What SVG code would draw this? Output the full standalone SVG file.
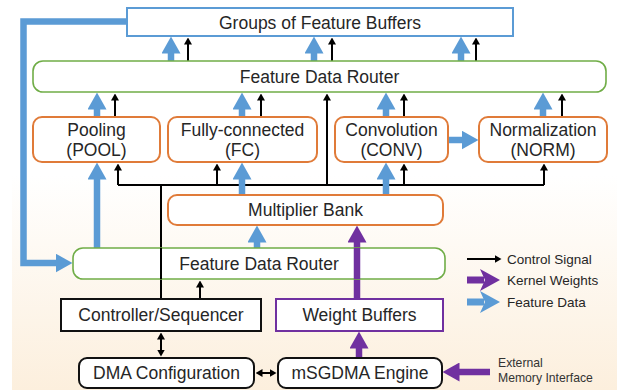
<svg xmlns="http://www.w3.org/2000/svg" width="617" height="390" viewBox="0 0 617 390">
<defs>
<linearGradient id="bg" x1="0" y1="0" x2="0" y2="1">
<stop offset="0" stop-color="#ffffff"/>
<stop offset="0.45" stop-color="#ffffff"/>
<stop offset="1" stop-color="#fcefdd"/>
</linearGradient>
<marker id="bh" markerUnits="userSpaceOnUse" markerWidth="17" markerHeight="19" viewBox="0 0 17 19" refX="0.5" refY="9.5" orient="auto"><path d="M0,0 L17,9.5 L0,19 z" fill="#5b9bd5"/></marker>
<marker id="ph" markerUnits="userSpaceOnUse" markerWidth="17" markerHeight="19" viewBox="0 0 17 19" refX="0.5" refY="9.5" orient="auto"><path d="M0,0 L17,9.5 L0,19 z" fill="#7030a0"/></marker>
<marker id="lbh" markerUnits="userSpaceOnUse" markerWidth="20" markerHeight="22" viewBox="0 0 20 22" refX="4" refY="11" orient="auto"><path d="M0,0 L20,11 L0,22 L5,11 z" fill="#5b9bd5"/></marker>
<marker id="lph" markerUnits="userSpaceOnUse" markerWidth="20" markerHeight="22" viewBox="0 0 20 22" refX="4" refY="11" orient="auto"><path d="M0,0 L20,11 L0,22 L5,11 z" fill="#7030a0"/></marker>
<marker id="kh" markerUnits="userSpaceOnUse" markerWidth="7" markerHeight="8" viewBox="0 0 7 8" refX="0.5" refY="4" orient="auto-start-reverse"><path d="M0,0 L7,4 L0,8 z" fill="#000"/></marker>
</defs>
<style>
.t{font-family:"Liberation Sans",Arial,sans-serif;font-size:17.5px;fill:#262626;text-anchor:middle}
.s{font-family:"Liberation Sans",Arial,sans-serif;font-size:13.5px;fill:#262626}
.x{font-family:"Liberation Sans",Arial,sans-serif;font-size:12.2px;fill:#333}
.blue{fill:#fff;stroke:#5b9bd5;stroke-width:2}
.green{fill:#fff;stroke:#70ad47;stroke-width:1.6}
.orange{fill:#fff;stroke:#e07b39;stroke-width:2}
.black{fill:#fff;stroke:#111;stroke-width:2}
.purple{fill:#fff;stroke:#7030a0;stroke-width:2}
.fb{fill:none;stroke:#5b9bd5;stroke-width:6.5;marker-end:url(#bh)}
.kw{fill:none;stroke:#7030a0;stroke-width:6.5;marker-end:url(#ph)}
.cs{fill:none;stroke:#000;stroke-width:2;marker-end:url(#kh)}
.ln{fill:none;stroke:#000;stroke-width:2}
.dbl{fill:none;stroke:#000;stroke-width:2;marker-end:url(#kh);marker-start:url(#kh)}
</style>
<rect x="12" y="0" width="605" height="390" fill="url(#bg)"/>

<g id="connectors">
<path class="fb" d="M127,21.5 H23.5 V263 H56"/>
<line class="fb" x1="171" y1="61" x2="171" y2="53"/>
<line class="fb" x1="314" y1="61" x2="314" y2="53"/>
<line class="fb" x1="461" y1="61" x2="461" y2="53"/>
<line class="cs" x1="188" y1="61" x2="188" y2="44"/>
<line class="cs" x1="332" y1="61" x2="332" y2="44"/>
<line class="cs" x1="476" y1="61" x2="476" y2="44"/>
<line class="fb" x1="97" y1="117" x2="97" y2="109"/>
<line class="fb" x1="242" y1="117" x2="242" y2="109"/>
<line class="fb" x1="386" y1="117" x2="386" y2="109"/>
<line class="fb" x1="543" y1="117" x2="543" y2="109"/>
<line class="cs" x1="115" y1="117" x2="115" y2="100"/>
<line class="cs" x1="261" y1="117" x2="261" y2="100"/>
<line class="cs" x1="404" y1="117" x2="404" y2="100"/>
<line class="cs" x1="562" y1="117" x2="562" y2="100"/>
<line class="fb" x1="448" y1="140" x2="462" y2="140"/>
<path class="ln" d="M118,185 H544"/>
<path class="cs" d="M118,185 V170"/>
<path class="cs" d="M217,185 V170"/>
<path class="cs" d="M404,185 V170"/>
<path class="cs" d="M544,185 V170"/>
<path class="cs" d="M327,185 V100"/>
<path class="ln" d="M161,185 V299"/>
<line class="fb" x1="242" y1="195" x2="242" y2="179"/>
<line class="fb" x1="386" y1="195" x2="386" y2="179"/>
<line class="fb" x1="97" y1="248" x2="97" y2="179"/>
<line class="fb" x1="257" y1="248" x2="257" y2="242"/>
<line class="kw" x1="357" y1="299" x2="357" y2="242"/>
<line class="cs" x1="200" y1="299" x2="200" y2="287"/>
<line class="dbl" x1="161" y1="339" x2="161" y2="350"/>
<line class="dbl" x1="262" y1="373" x2="270" y2="373"/>
<line class="kw" x1="359" y1="358" x2="359" y2="348"/>
<line class="kw" x1="490" y1="372" x2="459" y2="372"/>
</g>

<g id="groups"><rect class="blue" x="127" y="8" width="386" height="28"/><text class="t" x="320" y="28.5">Groups of Feature Buffers</text></g>
<g id="router-top"><rect class="green" x="33" y="61" width="573" height="31" rx="10"/><text class="t" x="319.5" y="83">Feature Data Router</text></g>
<g id="pool"><rect class="orange" x="33" y="117" width="127" height="45" rx="9"/><text class="t" x="96.5" y="136">Pooling</text><text class="t" x="96.5" y="156">(POOL)</text></g>
<g id="fc"><rect class="orange" x="168" y="117" width="149" height="45" rx="9"/><text class="t" x="242.5" y="136">Fully-connected</text><text class="t" x="242.5" y="156">(FC)</text></g>
<g id="conv"><rect class="orange" x="335" y="117" width="113" height="45" rx="9"/><text class="t" x="391.5" y="136">Convolution</text><text class="t" x="391.5" y="156">(CONV)</text></g>
<g id="norm"><rect class="orange" x="479" y="117" width="128" height="45" rx="9"/><text class="t" x="543" y="136">Normalization</text><text class="t" x="543" y="156">(NORM)</text></g>
<g id="multiplier"><rect class="orange" x="168" y="195" width="275" height="30" rx="9"/><text class="t" x="305.5" y="216">Multiplier Bank</text></g>
<g id="router-bottom"><rect class="green" x="73" y="248" width="372" height="31" rx="10"/><text class="t" x="259" y="270">Feature Data Router</text></g>
<path class="ln" d="M161,248 V279"/>
<path d="M357,248 V279" fill="none" stroke="#7030a0" stroke-width="6.5"/>
<g id="controller"><rect class="black" x="61" y="299" width="200" height="32"/><text class="t" x="161" y="321">Controller/Sequencer</text></g>
<g id="weights"><rect class="purple" x="276" y="299" width="167" height="32"/><text class="t" x="359.5" y="321">Weight Buffers</text></g>
<g id="dma"><rect class="black" x="79" y="358" width="175" height="30" rx="8"/><text class="t" x="166.5" y="379">DMA Configuration</text></g>
<g id="msgdma"><rect class="black" x="278" y="358" width="164" height="30" rx="8"/><text class="t" x="360" y="379">mSGDMA Engine</text></g>
<g id="external"><text class="x" x="498" y="367">External</text><text class="x" x="498" y="382">Memory Interface</text></g>

<g id="legend">
<line class="cs" x1="467" y1="259" x2="495" y2="259"/>
<text class="s" x="507" y="264">Control Signal</text>
<line x1="467" y1="280" x2="484" y2="280" stroke="#7030a0" stroke-width="7" marker-end="url(#lph)"/>
<text class="s" x="507" y="285">Kernel Weights</text>
<line x1="467" y1="302" x2="484" y2="302" stroke="#5b9bd5" stroke-width="7" marker-end="url(#lbh)"/>
<text class="s" x="507" y="307">Feature Data</text>
</g>
</svg>
